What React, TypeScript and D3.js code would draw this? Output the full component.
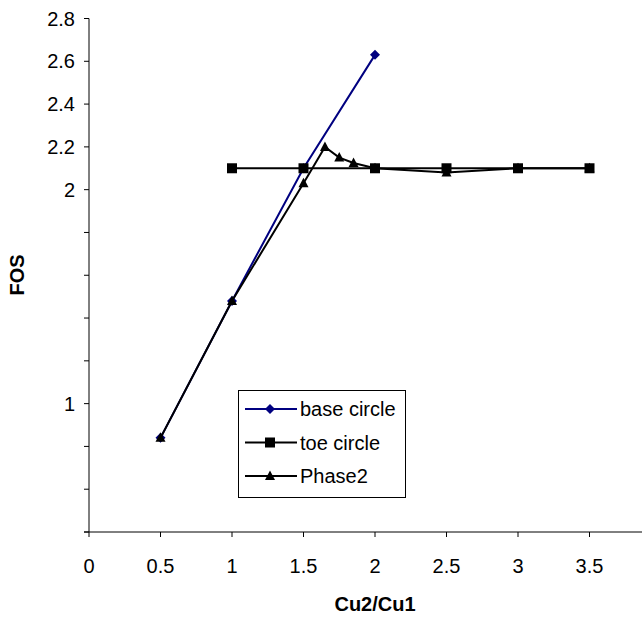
import React from "react";
import * as d3 from "d3";

const baseX = [0.5, 1, 1.5, 2];
const baseY = [0.84, 1.48, 2.1, 2.63];
const toeX = [1, 1.5, 2, 2.5, 3, 3.5];
const toeY = [2.1, 2.1, 2.1, 2.1, 2.1, 2.1];
const phaseX = [0.5, 1, 1.5, 1.65, 1.75, 1.85, 2, 2.5, 3, 3.5];
const phaseY = [0.84, 1.48, 2.03, 2.2, 2.15, 2.125, 2.1, 2.08, 2.1, 2.1];
const xTicks = [0, 0.5, 1, 1.5, 2, 2.5, 3, 3.5];
const yTicks = [0.4, 0.6, 0.8, 1, 1.2, 1.4, 1.6, 1.8, 2, 2.2, 2.4, 2.6, 2.8];
const yLabels = [1, 2, 2.2, 2.4, 2.6, 2.8];
const legendNames = ["base circle", "toe circle", "Phase2"];

const W = 642, H = 617;
const x = d3.scaleLinear().domain([0, 4]).range([89, 661]);
const y = d3.scaleLinear().domain([0.4, 2.8]).range([532, 18.5]);
const font = "Liberation Sans, Arial, sans-serif";

type Pt = [number, number];
const zip = (a: number[], b: number[]): Pt[] => a.map((v, i) => [v, b[i]]);
const line = d3.line<Pt>().x(d => x(d[0])).y(d => y(d[1]));

function Marker({ kind, cx, cy, color }: { kind: string; cx: number; cy: number; color: string }) {
  if (kind === "square") return <rect x={cx - 5} y={cy - 5} width={10} height={10} fill={color} />;
  if (kind === "diamond") return <path d={`M${cx},${cy - 5}L${cx + 5},${cy}L${cx},${cy + 5}L${cx - 5},${cy}Z`} fill={color} />;
  return <path d={`M${cx},${cy - 5.5}L${cx + 5},${cy + 4}L${cx - 5},${cy + 4}Z`} fill={color} />;
}

export default function App() {
  const series = [
    { name: legendNames[0], pts: zip(baseX, baseY), color: "#000080", kind: "diamond" },
    { name: legendNames[1], pts: zip(toeX, toeY), color: "#000000", kind: "square" },
    { name: legendNames[2], pts: zip(phaseX, phaseY), color: "#000000", kind: "triangle" },
  ];
  const legendY = [409, 442.5, 476];
  return (
    <svg width={W} height={H} style={{ position: "absolute", left: 0, top: 0, background: "#fff" }} fontFamily={font}>
      <rect width={W} height={H} fill="#fff" />
      {/* axes */}
      <line x1={x(0)} x2={x(0)} y1={y(2.8)} y2={y(0.4)} stroke="#000" strokeWidth={1} />
      <line x1={x(0) - 5} x2={W} y1={y(0.4)} y2={y(0.4)} stroke="#000" strokeWidth={1} />
      {yTicks.map(t => (
        <line key={"yt" + t} x1={x(0) - 5} x2={x(0)} y1={y(t)} y2={y(t)} stroke="#000" strokeWidth={1} />
      ))}
      {yLabels.map(t => (
        <text key={"yl" + t} x={x(0) - 14} y={y(t)} dy="0.36em" textAnchor="end" fontSize={20}>{String(t)}</text>
      ))}
      {xTicks.map(t => (
        <g key={"xt" + t}>
          <line x1={x(t)} x2={x(t)} y1={y(0.4)} y2={y(0.4) + 5} stroke="#000" strokeWidth={1} />
          <text x={x(t)} y={573} textAnchor="middle" fontSize={20}>{String(t)}</text>
        </g>
      ))}
      <text x={375} y={611} textAnchor="middle" fontSize={20} fontWeight="bold">Cu2/Cu1</text>
      <text transform="translate(24,275) rotate(-90)" textAnchor="middle" fontSize={20} fontWeight="bold">FOS</text>
      {/* series */}
      {series.map(s => (
        <g key={s.name}>
          <path d={line(s.pts) || ""} fill="none" stroke={s.color} strokeWidth={2} />
          {s.pts.map((p, i) => <Marker key={i} kind={s.kind} cx={x(p[0])} cy={y(p[1])} color={s.color} />)}
        </g>
      ))}
      {/* legend */}
      <rect x={238.5} y={390.5} width={167} height={107} fill="#fff" stroke="#000" strokeWidth={1} />
      {series.map((s, i) => {
        const ly = legendY[i];
        return (
          <g key={"lg" + s.name}>
            <line x1={245} x2={297} y1={ly} y2={ly} stroke={s.color} strokeWidth={2} />
            <Marker kind={s.kind} cx={270} cy={ly} color={s.color} />
            <text x={300} y={ly} dy="0.36em" fontSize={20}>{s.name}</text>
          </g>
        );
      })}
    </svg>
  );
}
